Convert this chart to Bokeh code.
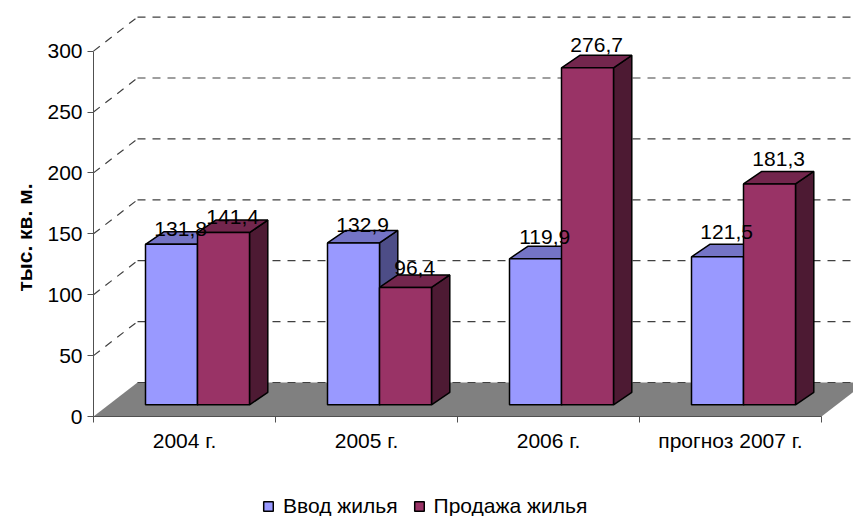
import math
from bokeh.plotting import figure
from bokeh.models import Range1d, FixedTicker, Legend, LegendItem, LinearAxis
from bokeh.core.properties import value
from bokeh.embed import file_html
from bokeh.resources import INLINE

# ---------------- data ----------------
categories = ["2004 г.", "2005 г.", "2006 г.", "прогноз 2007 г."]
vvod = [131.8, 132.9, 119.9, 121.5]          # Ввод жилья
prodazha = [141.4, 96.4, 276.7, 181.3]       # Продажа жилья
series_names = ["Ввод жилья", "Продажа жилья"]
y_ticks = [0, 50, 100, 150, 200, 250, 300]
y_title = "тыс. кв. м."

# ---------------- styles / geometry ----------------
FONT = "Liberation Sans"
FS = "21px"
W, H = 853, 516
X0 = 93.0           # px from left where the value axis stands
Y0 = 416.0          # px from top for value 0
PX_CAT = 182.0      # px per category
PX_UNIT = 1.218     # px per value unit

def off(dx, dy):
    return dx / PX_CAT, dy / PX_UNIT

WALL = off(44, 34)
FRONT = off(13, 11.7)
DEPTH = off(18.3, 12.5)
BAR_W = 52 / PX_CAT

series = [
    dict(vals=vvod, front="#9999FF", top="#7474C6", side="#4D4D87"),
    dict(vals=prodazha, front="#993366", top="#73264D", side="#4D1A33"),
]

ncat = len(categories)

p = figure(width=W, height=H, output_backend="svg", toolbar_location=None,
           x_axis_location=None, y_axis_location=None,
           x_range=Range1d(-X0 / PX_CAT, (W - X0) / PX_CAT),
           y_range=Range1d(-(H - Y0) / PX_UNIT, Y0 / PX_UNIT),
           min_border_left=0, min_border_right=0, min_border_top=0,
           min_border_bottom=0, tools="")
p.grid.visible = False
p.outline_line_color = None
p.background_fill_color = "white"
p.border_fill_color = "white"

# value axis, fixed at the left edge of the chart floor
ax = LinearAxis(fixed_location=0)
ax.ticker = FixedTicker(ticks=y_ticks)
ax.bounds = (min(y_ticks), max(y_ticks))
ax.minor_tick_line_color = None
ax.major_tick_in = 0
ax.major_tick_out = 6
ax.major_label_standoff = 5
ax.axis_line_color = "#505050"
ax.major_tick_line_color = "#505050"
ax.major_label_text_font = FONT
ax.major_label_text_font_size = FS
ax.major_label_text_color = "black"
p.add_layout(ax, "left")

# axis title (rotated)
p.text([-(X0 - 24) / PX_CAT], [(Y0 - 237) / PX_UNIT], text=[y_title], angle=math.pi / 2,
       text_font=value(FONT), text_font_size=FS, text_font_style="bold",
       text_align="center", text_baseline="alphabetic", text_color="black")

# floor
fx = [0, ncat, ncat + WALL[0], WALL[0]]
fy = [0, 0, WALL[1], WALL[1]]
p.patch(fx, fy, fill_color="#808080", line_color=None)

# wall gridlines (back) and left-wall diagonals
back_x0 = [WALL[0]] * len(y_ticks)
back_x1 = [ncat + WALL[0] + 1] * len(y_ticks)
back_y = [t + WALL[1] for t in y_ticks]
p.segment(back_x0, back_y, back_x1, back_y, line_color="#404040",
          line_width=1.2, line_dash="8 7")
diag = [t for t in y_ticks if t > 0]
p.segment([0] * len(diag), diag, [WALL[0]] * len(diag), [t + WALL[1] for t in diag],
          line_color="#404040", line_width=1.2, line_dash="8 7")

# category axis
p.segment([0], [0], [ncat], [0], line_color="#505050", line_width=1)
tick_x = list(range(ncat + 1))
p.segment(tick_x, [0] * len(tick_x), tick_x, [-6 / PX_UNIT] * len(tick_x),
          line_color="#505050", line_width=1)
p.text([i + 0.5 for i in range(ncat)], [-24 / PX_UNIT] * ncat, text=categories,
       text_font=value(FONT), text_font_size=FS, text_align="center",
       text_baseline="middle", text_color="black")

# bars
front_renderers = []
lbl_x, lbl_y, lbl_t = [], [], []
for s, ser in enumerate(series):
    fxs, fys, txs, tys, sxs, sys_ = [], [], [], [], [], []
    for i, v in enumerate(ser["vals"]):
        xl = i + 0.5 - BAR_W + s * BAR_W + FRONT[0]
        xr = xl + BAR_W
        b = FRONT[1]
        t = v + FRONT[1]
        dx, dy = DEPTH
        fxs.append([xl, xr, xr, xl]); fys.append([b, b, t, t])
        txs.append([xl, xr, xr + dx, xl + dx]); tys.append([t, t, t + dy, t + dy])
        sxs.append([xr, xr + dx, xr + dx, xr]); sys_.append([b, b + dy, t + dy, t])
        cx = (xl + xr) / 2 + dx / 2
        # perspective: label gap above the bar grows slightly to the right
        gap_px = 2.5 + 0.0175 * (cx * PX_CAT - 87)
        lbl_x.append(cx)
        lbl_y.append(t + dy + gap_px / PX_UNIT)
        lbl_t.append(f"{v:.1f}".replace(".", ","))
    p.patches(sxs, sys_, fill_color=ser["side"], line_color="black", line_width=1.5)
    p.patches(txs, tys, fill_color=ser["top"], line_color="black", line_width=1.5)
    r = p.patches(fxs, fys, fill_color=ser["front"], line_color="black", line_width=1.5)
    front_renderers.append(r)

p.text(lbl_x, lbl_y, text=lbl_t, text_font=value(FONT), text_font_size=FS,
       text_align="center", text_baseline="alphabetic", text_color="black")

legend = Legend(items=[LegendItem(label=series_names[k], renderers=[front_renderers[k]])
                       for k in range(2)],
                location=(262, -2), orientation="horizontal",
                glyph_width=12, glyph_height=12, label_standoff=9, spacing=15,
                padding=0, margin=0, border_line_color=None,
                background_fill_alpha=0, label_text_font=FONT,
                label_text_font_size=FS, label_text_color="black")
p.add_layout(legend, "center")

open("out.html", "w").write(file_html(p, INLINE))
